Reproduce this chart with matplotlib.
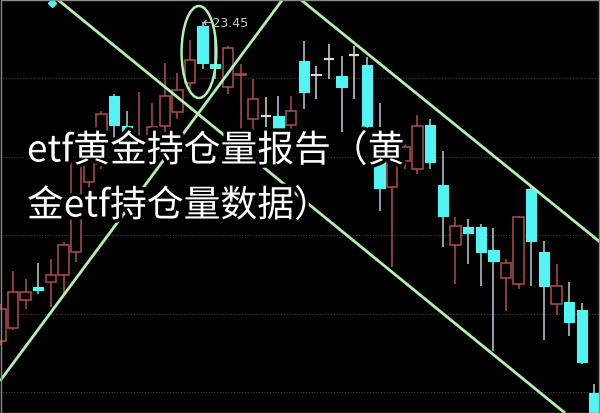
import matplotlib
matplotlib.use('Agg')
import matplotlib.pyplot as plt
from matplotlib.patches import Rectangle, Ellipse
import matplotlib.patheffects as pe

# ---- data (price units) ----
opens  = [20.26, 20.39, 20.67, 20.80, 20.85, 20.92, 21.15, 21.85, 22.03, 22.71,
          22.41, 22.21, 22.28, 22.41, 22.55, 22.84, 23.41, 23.03, 22.80, 22.92,
          22.48, 22.51, 22.51, 22.42, 23.06, 22.92, 23.08, 22.91, 23.12, 23.02,
          22.17, 21.80, 22.06, 21.98, 22.42, 21.82, 21.22, 21.40, 21.40, 21.17,
          20.89, 20.83, 21.78, 21.15, 20.63, 20.65, 20.57, 19.74]
closes = [20.58, 20.75, 20.75, 20.77, 20.92, 21.22, 22.05, 22.18, 22.53, 22.42,
          22.28, 22.28, 22.40, 22.71, 22.77, 23.07, 23.04, 22.99, 23.19, 22.93,
          22.68, 22.51, 22.38, 22.56, 22.75, 22.92, 23.08, 22.80, 23.12, 22.41,
          21.79, 22.33, 22.20, 22.41, 22.05, 21.51, 21.41, 21.34, 21.15, 21.06,
          21.04, 21.50, 21.26, 20.81, 20.81, 20.45, 20.05, 19.43]
highs  = [20.63, 20.96, 20.88, 21.04, 21.08, 21.25, 22.08, 22.23, 22.56, 22.73,
          22.56, 22.75, 22.64, 23.04, 22.94, 23.27, 23.45, 23.31, 23.21, 23.03,
          22.88, 22.70, 22.71, 22.71, 23.26, 23.01, 23.23, 23.11, 23.21, 23.10,
          22.64, 22.38, 22.28, 22.52, 22.48, 22.16, 21.50, 21.48, 21.43, 21.39,
          21.08, 21.51, 21.80, 21.26, 21.03, 20.85, 20.64, 19.83]
lows   = [20.22, 20.37, 20.58, 20.73, 20.60, 20.71, 21.05, 21.73, 21.98, 22.23,
          22.08, 22.08, 22.18, 22.33, 22.48, 22.78, 22.98, 22.88, 22.73, 22.23,
          22.31, 22.25, 22.23, 22.31, 22.58, 22.68, 22.88, 22.35, 22.68, 22.38,
          21.56, 21.00, 21.98, 21.93, 21.98, 21.20, 20.83, 21.03, 20.81, 20.16,
          20.56, 20.78, 20.81, 20.27, 20.52, 20.31, 20.03, 19.43]

grid_levels = [22.89, 22.10, 21.32, 20.53, 19.75]

# trend lines (candle index, price)
trend_up_x = [-0.03, 22.36]
trend_up_y = [19.86, 23.68]
trend_dn1_x = [4.48, 44.67]
trend_dn1_y = [23.68, 19.54]
trend_dn2_x = [23.70, 47.44]
trend_dn2_y = [23.68, 21.25]

peak_label = "23.45"
peak_index = 16
title_lines = ["etf黄金持仓量报告（黄", "金etf持仓量数据）"]

# ---- styles ----
RED = '#b04e4e'
CYAN = '#55f3f3'
CYAN_WICK = '#b9cfd6'
WHITE = '#d8d8d8'
GREEN = '#b4f0b0'

fig = plt.figure(figsize=(6, 4.14), dpi=100, facecolor='black')
ax = fig.add_axes([0, 0, 1, 1])
ax.set_facecolor('black')
ax.set_xlim(-0.03, 47.44)
ax.set_ylim(19.54, 23.68)
ax.axis('off')

ax.hlines(grid_levels, -0.03, 47.44, colors='#404040',
          linestyles=(0, (1, 1.5)), linewidth=0.8, zorder=1)

w = 0.82
for i, (o, c, h, l) in enumerate(zip(opens, closes, highs, lows)):
    if c > o:
        ax.vlines(i, l, h, colors=RED, linewidth=1.1, zorder=2)
        ax.add_patch(Rectangle((i - w / 2, o), w, c - o, facecolor='black',
                               edgecolor=RED, linewidth=1.1, zorder=3))
    elif c < o:
        ax.vlines(i, l, h, colors=CYAN_WICK, linewidth=1.1, zorder=2)
        ax.add_patch(Rectangle((i - w / 2, c), w, o - c, facecolor=CYAN,
                               edgecolor=CYAN, linewidth=0.8, zorder=3))
    else:
        ax.vlines(i, l, h, colors=WHITE, linewidth=1.1, zorder=2)
        ax.hlines(o, i - w / 2, i + w / 2, colors=WHITE, linewidth=1.6, zorder=3)

for xs, ys in [(trend_up_x, trend_up_y), (trend_dn1_x, trend_dn1_y),
               (trend_dn2_x, trend_dn2_y)]:
    ax.plot(xs, ys, color=GREEN, linewidth=2.0, zorder=4, solid_capstyle='butt')

ax.add_patch(Ellipse((15.71, 23.15), 2.75, 0.92, fill=False,
                     edgecolor=GREEN, linewidth=1.8, zorder=4))

ax.text(peak_index, highs[peak_index], '←' + peak_label, ha='left', va='center',
        fontsize=9, color='#c8c8c8', family='DejaVu Sans', zorder=5)

ax.plot([4.08], [23.64], marker='D', markersize=4, color=CYAN, zorder=5)

fig.patches.append(Rectangle((0.002, 0), 0.996, 0.998, transform=fig.transFigure,
                             fill=False, edgecolor='#8a8a8a', linewidth=1.0))

stroke = [pe.withStroke(linewidth=5, foreground='black')]
for k, (line, ypx) in enumerate(zip(title_lines, [152, 207])):
    fig.text(27 / 600, 1 - ypx / 414, line, ha='left', va='center',
             fontsize=26.5, fontweight='medium', color='white',
             family=['Noto Sans CJK SC', 'DejaVu Sans'],
             path_effects=stroke, zorder=10)

fig.savefig('out.png', dpi=100, facecolor='black')
